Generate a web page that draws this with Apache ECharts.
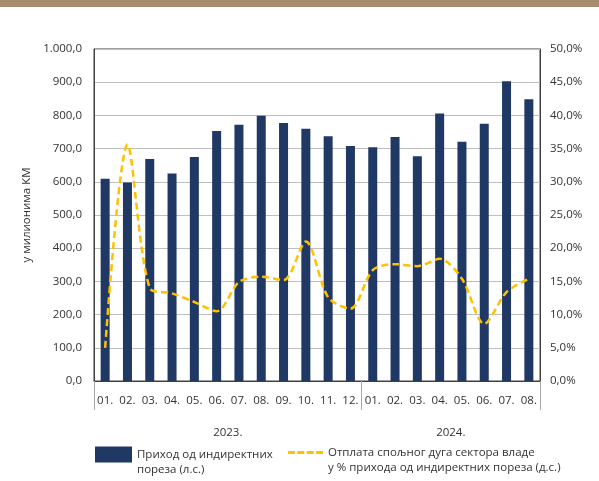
<!DOCTYPE html>
<html>
<head>
<meta charset="utf-8">
<script src="https://cdn.jsdelivr.net/npm/echarts@6/dist/echarts.min.js"></script>
<style>
  html, body { margin: 0; padding: 0; background: #fff; }
  #band { position: absolute; left: 0; top: 0; width: 599px; height: 7px; background: #a68b6e; }
  #chart { width: 599px; height: 481px; }
</style>
</head>
<body>
<div id="chart"></div>
<div id="band"></div>
<script>
// месеци и године
var months = ["01.", "02.", "03.", "04.", "05.", "06.", "07.", "08.", "09.", "10.", "11.", "12.",
              "01.", "02.", "03.", "04.", "05.", "06.", "07.", "08."];
var years = ["2023.", "2024."];
var monthsPerYear = [12, 8];

// Приход од индиректних пореза (мил. КМ)
var revenue = [609, 598, 669, 625, 675, 753, 772, 799, 777, 760, 737, 708,
               704, 735, 677, 806, 721, 775, 903, 849];
// Отплата спољног дуга сектора владе, % прихода
var debtShare = [5.0, 35.6, 14.0, 13.2, 11.9, 10.5, 14.9, 15.7, 15.2, 21.0, 12.6, 10.9,
                 16.7, 17.6, 17.3, 18.4, 15.4, 8.6, 13.4, 15.4];

var fmt = function (v, d) {
  var s = v.toFixed(d).split(".");
  var int = s[0].replace(/\B(?=(\d{3})+(?!\d))/g, ".");
  return int + "," + s[1];
};

// границе између година и средине за натписе
var bounds = [0], centers = [];
monthsPerYear.forEach(function (n) {
  var start = bounds[bounds.length - 1];
  bounds.push(start + n);
  centers.push(start + n / 2);
});

var barName = "Приход од индиректних\nпореза (л.с.)";
var lineName = "Отплата спољног дуга сектора владе\nу % прихода од индиректних пореза (д.с.)";

// празан ред изнад, да знак легенде стоји уз први ред текста
var legendText = function (name) { return " \n" + name; };

var font = "Open Sans";
var myChart = echarts.init(document.getElementById("chart"));
var option = {
  textStyle: { fontFamily: font },
  grid: {
    left: 94, right: 59, top: 49, bottom: 100,
    show: true, borderColor: "#404040", borderWidth: 1
  },
  legend: [
    {
      data: [{ name: barName, icon: "rect" }],
      formatter: legendText,
      left: 90, top: 427,
      itemWidth: 37, itemHeight: 16,
      textStyle: { fontFamily: font, fontSize: 11.5, color: "#333", lineHeight: 15 }
    },
    {
      data: [{
        name: lineName,
        icon: "path://M0 0H7V3H0Z M9.5 0H16.5V3H9.5Z M19 0H26V3H19Z M28.5 0H35.5V3H28.5Z",
        itemStyle: { color: "#ffc000" }
      }],
      formatter: legendText,
      left: 283, top: 425,
      itemWidth: 35, itemHeight: 3,
      textStyle: { fontFamily: font, fontSize: 11.5, color: "#333", lineHeight: 15 }
    }
  ],
  xAxis: [
    {
      type: "category",
      data: months,
      axisLine: { lineStyle: { color: "#404040" } },
      axisTick: { show: false },
      axisLabel: { color: "#333", fontSize: 11.5, margin: 14, interval: 0 }
    },
    {
      type: "value",
      position: "bottom",
      min: 0, max: months.length,
      axisLine: { show: false },
      splitLine: { show: false },
      axisTick: { show: true, customValues: bounds, length: 29, lineStyle: { color: "#a6a6a6" } },
      axisLabel: {
        customValues: centers,
        margin: 46, color: "#333", fontSize: 11.5,
        formatter: function (v) {
          var i = centers.indexOf(v);
          return i >= 0 ? years[i] : "";
        }
      }
    }
  ],
  yAxis: [
    {
      type: "value",
      min: 0, max: 1000, interval: 100,
      name: "у милионима КМ",
      nameLocation: "middle",
      nameGap: 60,
      nameTextStyle: { fontFamily: font, fontSize: 11.5, color: "#333" },
      axisLine: { show: true, lineStyle: { color: "#404040" } },
      axisTick: { show: false },
      splitLine: { lineStyle: { color: "#bfbfbf" } },
      axisLabel: { color: "#333", fontSize: 11.5, margin: 12, formatter: function (v) { return fmt(v, 1); } }
    },
    {
      type: "value",
      min: 0, max: 50, interval: 5,
      axisLine: { show: true, lineStyle: { color: "#404040" } },
      axisTick: { show: false },
      splitLine: { show: false },
      axisLabel: { color: "#333", fontSize: 11.5, margin: 10, formatter: function (v) { return fmt(v, 1) + "%"; } }
    }
  ],
  series: [
    {
      name: barName,
      type: "bar",
      data: revenue,
      barWidth: 9,
      itemStyle: { color: "#1f3864" }
    },
    {
      name: lineName,
      type: "line",
      yAxisIndex: 1,
      data: debtShare,
      symbol: "none",
      smooth: 0.3,
      lineStyle: { color: "#ffc000", width: 2.5, type: [7, 4] },
      itemStyle: { color: "#ffc000" }
    }
  ]
};
myChart.setOption(option);
window.addEventListener("resize", function () {
  myChart.resize();
});
</script>
</body>
</html>
